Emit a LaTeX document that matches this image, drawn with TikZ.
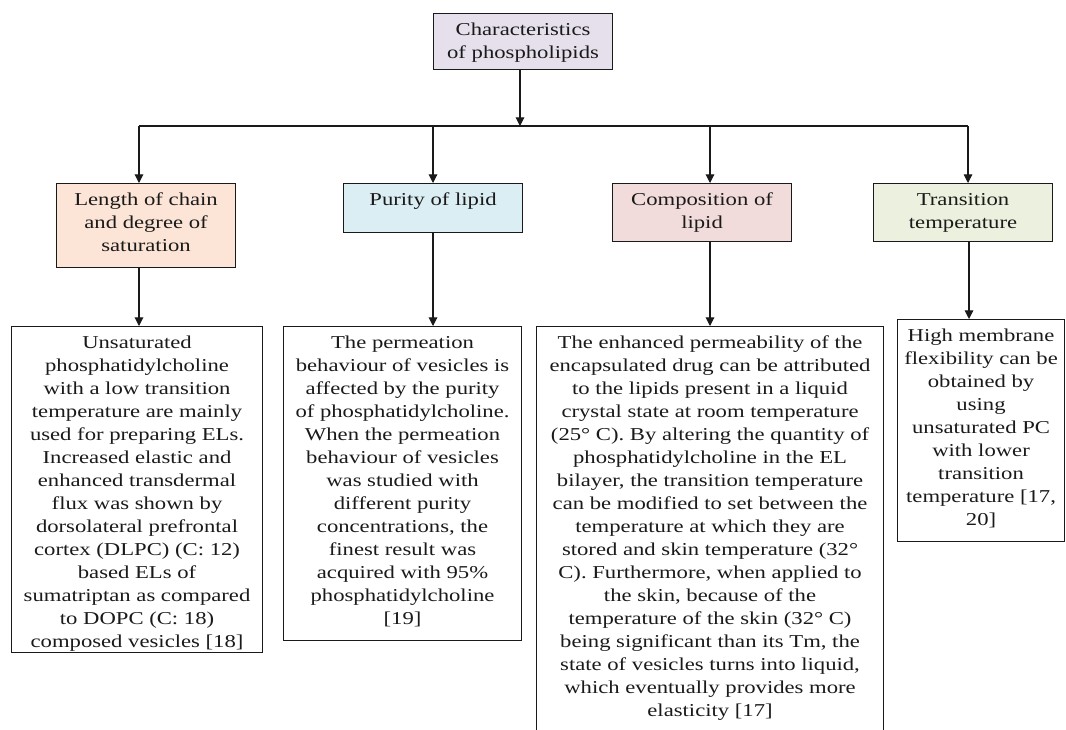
\documentclass[tikz,border=0pt]{standalone}
\usepackage{fontspec}
\setmainfont{Liberation Serif}[FakeStretch=1.25]
\usetikzlibrary{arrows.meta}
\newdimen\pxu \pxu=0.75pt
\definecolor{lav}{HTML}{E5E0EC}
\definecolor{peach}{HTML}{FCE4D6}
\definecolor{lblue}{HTML}{DBEEF4}
\definecolor{lpink}{HTML}{F2DCDB}
\definecolor{lgreen}{HTML}{EBF1DE}
\definecolor{ink}{HTML}{1A1A1A}
\newcommand{\bx}[3]{\parbox[c][#2\pxu][t]{#1\pxu}{\centering\fontsize{13.6pt}{17.25pt}\selectfont\vspace*{6\pxu}\strut #3}}
\begin{document}
\begin{tikzpicture}[x=0.75pt,y=-0.75pt,
  box/.style={draw=ink, line width=0.8pt, inner sep=0pt, anchor=north west, text=ink},
  conn/.style={draw=ink, line width=0.8pt},
  arr/.style={conn, -{Triangle[length=6.5pt,width=6.5pt]}}]
\useasboundingbox (0,0) rectangle (1066,729);
\clip (0,0) rectangle (1066,729);
\fill[white] (0,0) rectangle (1066,729);

\node[box, fill=lav] (top) at (433,13) {\bx{179}{56}{Characteristics\\of phospholipids}};

\node[box, fill=peach] (c1) at (56,183) {\bx{179}{84}{Length of chain\\and degree of\\saturation}};
\node[box, fill=lblue] (c2) at (343,183) {\bx{179}{49}{Purity of lipid}};
\node[box, fill=lpink] (c3) at (612,183) {\bx{179}{58}{Composition of\\lipid}};
\node[box, fill=lgreen] (c4) at (873,183) {\bx{179}{58}{Transition\\temperature}};

\node[box, fill=white] (t1) at (11,326) {\bx{251}{326}{Unsaturated\\phosphatidylcholine\\with a low transition\\temperature are mainly\\used for preparing ELs.\\Increased elastic and\\enhanced transdermal\\flux was shown by\\dorsolateral prefrontal\\cortex (DLPC) (C: 12)\\based ELs of\\sumatriptan as compared\\to DOPC (C: 18)\\composed vesicles [18]}};
\node[box, fill=white] (t2) at (283,326) {\bx{238}{314}{The permeation\\behaviour of vesicles is\\affected by the purity\\of phosphatidylcholine.\\When the permeation\\behaviour of vesicles\\was studied with\\different purity\\concentrations, the\\finest result was\\acquired with 95\%\\phosphatidylcholine\\{}[19]}};
\node[box, fill=white] (t3) at (536,326) {\bx{347}{420}{The enhanced permeability of the\\encapsulated drug can be attributed\\to the lipids present in a liquid\\crystal state at room temperature\\(25° C). By altering the quantity of\\phosphatidylcholine in the EL\\bilayer, the transition temperature\\can be modified to set between the\\temperature at which they are\\stored and skin temperature (32°\\C). Furthermore, when applied to\\the skin, because of the\\temperature of the skin (32° C)\\being significant than its Tm, the\\state of vesicles turns into liquid,\\which eventually provides more\\elasticity [17]}};
\node[box, fill=white] (t4) at (897,319) {\bx{167}{222}{High membrane\\flexibility can be\\obtained by\\using\\unsaturated PC\\with lower\\transition\\temperature [17,\\20]}};

\coordinate (j) at (520,126);
\coordinate (h1) at (139,126);
\coordinate (h2) at (433,126);
\coordinate (h3) at (710,126);
\coordinate (h4) at (968,126);
\coordinate (v4) at (969,126);

\draw[arr] (j |- top.south) -- (j);
\draw[conn] (h1) -- (h4);
\draw[arr] (h1) -- (h1 |- c1.north);
\draw[arr] (h2) -- (h2 |- c2.north);
\draw[arr] (h3) -- (h3 |- c3.north);
\draw[arr] (h4) -- (h4 |- c4.north);

\draw[arr] (h1 |- c1.south) -- (h1 |- t1.north);
\draw[arr] (h2 |- c2.south) -- (h2 |- t2.north);
\draw[arr] (h3 |- c3.south) -- (h3 |- t3.north);
\draw[arr] (v4 |- c4.south) -- (v4 |- t4.north);
\end{tikzpicture}
\end{document}
